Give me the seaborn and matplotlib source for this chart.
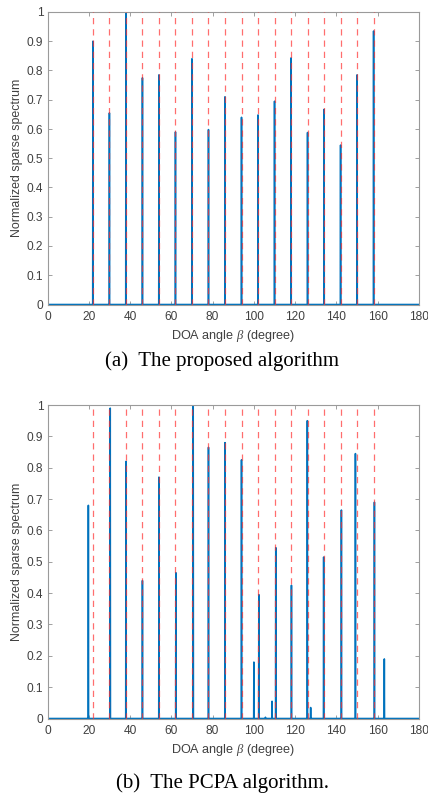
import numpy as np
import pandas as pd
import matplotlib
matplotlib.use("Agg")
import matplotlib.pyplot as plt
import seaborn as sns

# True DOAs (red dashed reference lines)
true_doas = [22, 30, 38, 46, 54, 62, 70, 78, 86, 94, 102, 110, 118, 126, 134, 142, 150, 158]

# (a) proposed algorithm: estimated peaks
prop_angles = [22, 30, 38, 46, 54, 62, 70, 78, 86, 94, 102, 110, 118, 126, 134, 142, 150, 158]
prop_heights = [0.90, 0.655, 1.0, 0.775, 0.785, 0.59, 0.84, 0.598, 0.71, 0.64, 0.648,
                0.695, 0.843, 0.588, 0.667, 0.545, 0.785, 0.935]

# (b) PCPA algorithm: estimated peaks
pcpa_angles = [19.8, 30.4, 38, 46, 54, 62.2, 70.6, 78, 86, 94, 100, 102.4, 105.6, 108.8,
               110.6, 118.2, 125.9, 127.5, 133.8, 142.4, 149.2, 158.4, 163.2]
pcpa_heights = [0.68, 0.99, 0.82, 0.44, 0.77, 0.465, 1.0, 0.865, 0.88, 0.825, 0.18, 0.395,
                0.004, 0.055, 0.545, 0.425, 0.95, 0.035, 0.515, 0.665, 0.845, 0.69, 0.19]

x_ticks = [0, 20, 40, 60, 80, 100, 120, 140, 160, 180]
y_ticks = [0, 0.1, 0.2, 0.3, 0.4, 0.5, 0.6, 0.7, 0.8, 0.9, 1]
y_ticklabels = ["0", "0.1", "0.2", "0.3", "0.4", "0.5", "0.6", "0.7", "0.8", "0.9", "1"]
captions = ["(a)  The proposed algorithm", "(b)  The PCPA algorithm."]

sns.set_theme(style="white")
plt.rcParams['font.family'] = ['Liberation Sans', 'DejaVu Sans']
plt.rcParams['mathtext.fontset'] = 'custom'
plt.rcParams['mathtext.it'] = 'Liberation Serif:italic'

GRID_STEP = 0.1
grid = np.round(np.arange(0, 180 + GRID_STEP / 2, GRID_STEP), 1)


def spectrum(angles, heights):
    y = np.zeros_like(grid)
    for a, h in zip(angles, heights):
        idx = int(round(a / GRID_STEP))
        y[idx] = max(y[idx], h)
    return pd.DataFrame({"angle": grid, "value": y})


fig = plt.figure(figsize=(4.28, 7.98), dpi=100)
W, H = 428, 798
axes_boxes = [(47.5, 12, 419, 304.5), (47.5, 405, 419, 718.5)]
datasets = [spectrum(prop_angles, prop_heights), spectrum(pcpa_angles, pcpa_heights)]
caption_y = [361, 783]

text_color = "#404040"
for i, ((l, t, r, b), df) in enumerate(zip(axes_boxes, datasets)):
    ax = fig.add_axes([l / W, 1 - b / H, (r - l) / W, (b - t) / H])
    sns.lineplot(data=df, x="angle", y="value", ax=ax, color="#0072BD", linewidth=1.15,
                 estimator=None, sort=True, zorder=2)
    for d in true_doas:
        ax.axvline(d, color="#ff3030", alpha=0.7, linewidth=0.9,
                   linestyle=(0, (5, 4)), zorder=3)
    ax.set_xlim(0, 180)
    ax.set_ylim(0, 1)
    ax.set_xticks(x_ticks)
    ax.set_yticks(y_ticks)
    ax.set_yticklabels(y_ticklabels)
    ax.tick_params(direction="in", length=3, width=0.6, colors="#909090",
                   labelcolor=text_color, labelsize=8.6, top=True, right=True,
                   bottom=True, left=True, pad=3)
    ax.tick_params(axis="x", pad=5)
    for s in ax.spines.values():
        s.set_color("#9a9a9a")
        s.set_linewidth(0.8)
    ax.set_ylabel("Normalized sparse spectrum", fontsize=8.9, color=text_color, labelpad=3)
    ax.set_xlabel(r"DOA angle $\beta$ (degree)", fontsize=9.1, color=text_color, labelpad=3)
    ax.set_facecolor("white")
    fig.text(222 / W, 1 - caption_y[i] / H, captions[i], ha="center", va="center",
             fontsize=15, family="Liberation Serif", color="black")

fig.savefig("out.png", dpi=100, facecolor="white")
